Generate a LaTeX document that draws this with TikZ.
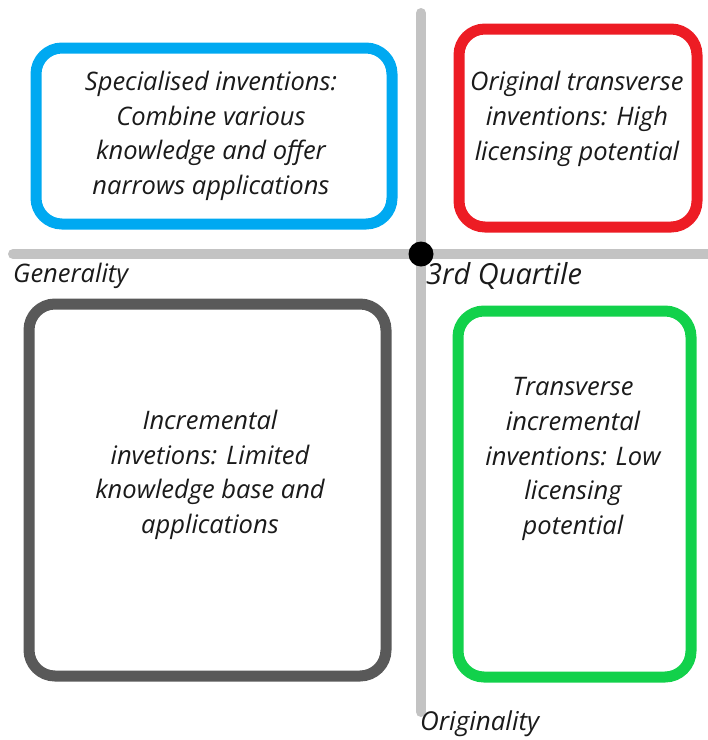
\documentclass[tikz,border=0pt]{standalone}
\usepackage{fontspec}
\setmainfont{Open Sans}
\definecolor{axisgray}{HTML}{C3C3C3}
\definecolor{boxblue}{HTML}{00A9F1}
\definecolor{boxred}{HTML}{ED1C24}
\definecolor{boxgray}{HTML}{595959}
\definecolor{boxgreen}{HTML}{12D14B}
\definecolor{txt}{HTML}{1A1A1A}
\begin{document}
\begin{tikzpicture}[x=1pt,y=-1pt,
  quad/.style={draw, line width=11pt, rounded corners=26pt, fill=white, inner sep=0pt, outer sep=0pt},
  body/.style={align=center, text=txt, font=\fontsize{25.5}{34.7}\selectfont\itshape, inner sep=0pt},
  axislabel/.style={text=txt, inner sep=0pt, anchor=west},
  axisline/.style={draw=axisgray, line width=10pt, line cap=round}]
\useasboundingbox (0,0) rectangle (708,740);
% axes
\coordinate (hl) at (13,254);
\coordinate (hr) at (712,254);
\coordinate (vt) at (421,13);
\coordinate (vb) at (421,712);
\draw[axisline] (hl) -- (hr);
\draw[axisline] (vt) -- (vb);
\fill[black] (421,254) circle (12.5pt);
% boxes
\path (36,48) node[quad, draw=boxblue, minimum width=356pt, minimum height=176pt, anchor=north west] (blue) {};
\path (459,29) node[quad, draw=boxred, minimum width=238pt, minimum height=198pt, anchor=north west] (red) {};
\path (29,304) node[quad, draw=boxgray, minimum width=357pt, minimum height=372pt, anchor=north west] (gray) {};
\path (458,311) node[quad, draw=boxgreen, minimum width=233pt, minimum height=366pt, anchor=north west] (green) {};
% texts
\node[body] (tblue) at (211,136) {Specialised inventions:\\Combine various\\knowledge and offer\\narrows applications};
\node[body] (tred) at (577,119) {Original transverse\\inventions: High\\licensing potential};
\node[body] (tgray) at (210,475) {Incremental\\invetions: Limited\\knowledge base and\\applications};
\node[body] (tgreen) at (573,459) {Transverse\\incremental\\inventions: Low\\licensing\\potential};
% axis labels
\node[axislabel, font=\fontsize{25.5}{30}\selectfont\itshape] (gen) at (13,276) {Generality};
\node[axislabel, font=\fontsize{29}{33}\selectfont\itshape] (q3) at (426,276) {3rd Quartile};
\node[axislabel, font=\fontsize{26}{30}\selectfont\itshape] (orig) at (420,724) {Originality};
\end{tikzpicture}
\end{document}
